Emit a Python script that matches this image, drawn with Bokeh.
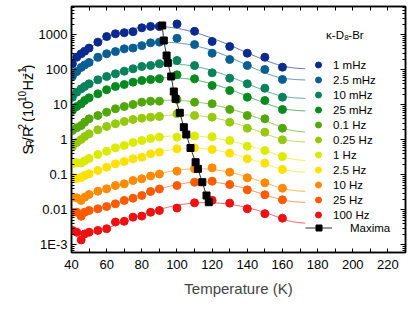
import numpy as np
from bokeh.plotting import figure
from bokeh.layouts import row
from bokeh.models import (Range1d, LinearAxis, LogAxis, FixedTicker, CustomJSTickFormatter,
                          Legend, LegendItem, Label)
from bokeh.core.properties import value
from bokeh.embed import file_html
from bokeh.resources import INLINE

# ---------------- data ----------------
T_pts = [40.5, 43, 45.5, 47.5, 50, 55, 60, 65, 70, 75, 80, 85, 90, 100, 110, 120, 130, 140, 150, 160]

freq_labels = ["1 mHz", "2.5 mHz", "10 mHz", "25 mHz", "0.1 Hz", "0.25 Hz",
               "1 Hz", "2.5 Hz", "10 Hz", "25 Hz", "100 Hz"]

s_1mHz = [148, 229, 288, 339, 417, 617, 891, 1072, 1148, 1230, 1585, 1738, 1738, 2042, 1259, 645, 463, 298, 229, 119]
s_2p5mHz = [65, 89, 117, 138, 162, 229, 288, 331, 398, 417, 490, 589, 617, 794, 525, 298, 197, 133, 102, 53]
s_10mHz = [16.5, 22.9, 28.6, 33.3, 39.8, 51.8, 64.4, 76.9, 91.2, 107, 124, 133, 148, 185, 132, 82, 57.5, 39.8, 29.8, 16.5]
s_25mHz = [6.87, 8.93, 10.7, 13.3, 15.8, 20.6, 26.9, 33.3, 38.0, 44.3, 49.4, 52.8, 55.3, 71.9, 55.3, 35.6, 25.6, 16.5, 13.3, 7.35]
s_0p1Hz = [1.85, 2.2, 2.56, 3.18, 3.98, 4.94, 6.15, 7.69, 8.93, 10.2, 11.9, 12.7, 12.7, 14.2, 11.9, 10.7, 7.35, 4.94, 3.98, 2.14]
s_0p25Hz = [0.644, 0.838, 1.02, 1.24, 1.48, 1.93, 2.4, 2.86, 3.33, 3.8, 4.14, 4.43, 4.63, 5.53, 4.94, 4.43, 3.18, 2.14, 1.65, 1.0]
s_1Hz = [0.206, 0.22, 0.217, 0.251, 0.292, 0.38, 0.472, 0.59, 0.687, 0.838, 0.955, 1.09, 1.2, 1.19, 1.29, 1.23, 0.955, 0.656, 0.494, 0.333]
s_2p5Hz = [0.0853, 0.0783, 0.0838, 0.0955, 0.107, 0.133, 0.165, 0.206, 0.24, 0.286, 0.318, 0.398, 0.443, 0.553, 0.59, 0.528, 0.414, 0.286, 0.214, 0.142]
s_10Hz = [0.0229, 0.022, 0.0185, 0.0229, 0.0274, 0.034, 0.0398, 0.0494, 0.0553, 0.0687, 0.0769, 0.0925, 0.105, 0.127, 0.148, 0.158, 0.119, 0.082, 0.059, 0.0414]
s_25Hz = [0.00853, 0.00853, 0.00656, 0.00853, 0.00955, 0.0107, 0.0124, 0.0148, 0.0185, 0.0214, 0.0256, 0.0333, 0.0393, 0.0494, 0.0615, 0.0656, 0.0528, 0.0372, 0.0269, 0.0193]
s_100Hz = [0.00257, 0.00229, 0.00138, 0.00204, 0.00229, 0.00257, 0.00288, 0.00447, 0.00468, 0.00617, 0.00661, 0.00851, 0.00955, 0.0112, 0.0158, 0.0186, 0.0155, 0.0107, 0.00776, 0.00575]

max_T = [91.6, 92.5, 94.1, 94.8, 96.7, 98.2, 99.2, 101.6, 103.9, 105.3, 107.7, 110.6, 111.9, 114.4, 116.8, 118.1]
max_S = [1845, 687, 256, 158, 64.4, 24.0, 14.8, 5.9, 2.29, 1.42, 0.583, 0.229, 0.148, 0.0615, 0.0256, 0.0165]

x_ticks = [40, 60, 80, 100, 120, 140, 160, 180, 200, 220]
y_ticks = [0.001, 0.01, 0.1, 1, 10, 100, 1000]
y_tick_labels = ["1E-3", "0.01", "0.1", "1", "10", "100", "1000"]

series = [s_1mHz, s_2p5mHz, s_10mHz, s_25mHz, s_0p1Hz, s_0p25Hz,
          s_1Hz, s_2p5Hz, s_10Hz, s_25Hz, s_100Hz]
colors = ["#0b2a8e", "#0a5f92", "#07825a", "#078a1e", "#52a80a", "#95c90a",
          "#dcea00", "#ffe100", "#ff8a00", "#ff5a00", "#ee1111"]

FONT = "Liberation Sans"
LW = 35  # width of the strip that holds the rotated y-axis title

# ---------------- main figure ----------------
p = figure(width=416 - LW, height=309, x_range=Range1d(40, 230),
           y_range=Range1d(10 ** -3.22, 10 ** 3.8086), y_axis_type="log",
           output_backend="svg", toolbar_location=None,
           min_border_left=71 - LW, min_border_right=11, min_border_top=6, min_border_bottom=57)
p.xgrid.visible = False
p.ygrid.visible = False
p.outline_line_color = "black"
p.outline_line_width = 1.5
p.background_fill_color = "white"

x_minor = [t + 10 for t in x_ticks]
y_minor = [m * 10.0 ** k for k in range(-4, 4) for m in range(2, 10)]

blank = CustomJSTickFormatter(code="return '';")


def style_axis(ax, labels=True, tin=5):
    ax.axis_line_color = "black"
    ax.axis_line_width = 1.5
    ax.major_tick_in = tin
    ax.major_tick_out = 0
    ax.minor_tick_in = 3
    ax.minor_tick_out = 0
    ax.major_tick_line_color = "black"
    ax.minor_tick_line_color = "black"
    ax.major_tick_line_width = 1
    ax.minor_tick_line_width = 1
    ax.major_label_text_font = FONT
    ax.major_label_text_font_size = "13px"
    ax.major_label_text_color = "black"
    if not labels:
        ax.formatter = blank
        ax.major_label_standoff = 0


bx = p.xaxis[0]
bx.ticker = FixedTicker(ticks=x_ticks, minor_ticks=x_minor)
style_axis(bx, tin=4)
bx.minor_tick_in = 4
bx.major_label_standoff = 7
bx.axis_label = "Temperature (K)"
bx.axis_label_text_font = FONT
bx.axis_label_text_font_style = "normal"
bx.axis_label_text_font_size = "15px"
bx.axis_label_standoff = 8

yfmt = CustomJSTickFormatter(args=dict(yt=y_ticks, yl=y_tick_labels), code="""
for (let i = 0; i < yt.length; i++) {
  if (Math.abs(Math.log10(yt[i]) - Math.log10(tick)) < 1e-6) return yl[i];
}
return '';
""")
ly = p.yaxis[0]
ly.ticker = FixedTicker(ticks=y_ticks, minor_ticks=y_minor)
ly.formatter = yfmt
style_axis(ly)
ly.major_label_standoff = 4

ry = LogAxis(ticker=FixedTicker(ticks=y_ticks, minor_ticks=y_minor))
style_axis(ry, labels=False)
p.add_layout(ry, "right")

tx = LinearAxis(ticker=FixedTicker(ticks=x_ticks, minor_ticks=x_minor))
style_axis(tx, labels=False, tin=4)
tx.minor_tick_in = 4
p.add_layout(tx, "above")

# ---------------- fits ----------------
T_arr = np.array(T_pts)
T_fit = np.linspace(40, 173, 220)
scatter_renderers = []
for s, c in zip(series, colors):
    ls = np.log10(np.array(s))
    poly = np.polynomial.Polynomial.fit(T_arr, ls, deg=5)
    dpoly = poly.deriv()
    y0, d0 = poly(160.0), dpoly(160.0)
    tau = 7.0
    yfit = np.where(T_fit <= 160, poly(T_fit),
                    y0 + d0 * tau * (1 - np.exp(-(T_fit - 160) / tau)))
    p.line(T_fit, 10 ** yfit, line_color=c, line_width=1, line_alpha=0.65)

for s, c in zip(series, colors):
    r = p.scatter(T_pts, s, marker="circle", size=8, fill_color=c, line_color=c)
    scatter_renderers.append(r)

mline = p.line(max_T, max_S, line_color="#333333", line_width=1)
msq = p.scatter(max_T, max_S, marker="square", size=7, fill_color="black", line_color="black")

# ---------------- legends ----------------
leg = Legend(items=[LegendItem(label=l, renderers=[r]) for l, r in zip(freq_labels, scatter_renderers)],
             location=(237, 30), padding=0, spacing=0, glyph_height=15, label_height=15,
             glyph_width=20, label_standoff=5, border_line_alpha=0, background_fill_alpha=0,
             label_text_font=FONT, label_text_font_size="11.5px", label_text_color="black")
p.add_layout(leg)

leg2 = Legend(items=[LegendItem(label="Maxima", renderers=[mline, msq])],
              location=(234, 17), padding=0, spacing=0, glyph_height=15, label_height=15,
              glyph_width=27, label_standoff=18, border_line_alpha=0, background_fill_alpha=0,
              label_text_font=FONT, label_text_font_size="11.5px", label_text_color="black")
p.add_layout(leg2)

# legend title: kappa-D8-Br
tA = dict(x=195.0, y=894, text_font=FONT, text_baseline="alphabetic", text_color="black", y_offset=2)
p.add_layout(Label(text="\u03ba-D", text_align="right", text_font_size="11.5px", **tA))
p.add_layout(Label(text="8", text_align="left", text_font_size="8px", x_offset=0.3,
                   **{**tA, "y_offset": -1}))
p.add_layout(Label(text="-Br", text_align="left", text_font_size="11.5px", x_offset=4.4, **tA))

# ---------------- strip with rotated y-axis title: S_R/R^2 (10^-10 Hz^-1) ----------------
q = figure(width=LW, height=309, x_range=Range1d(0, LW), y_range=Range1d(309, 0),
           output_backend="svg", toolbar_location=None, x_axis_location=None,
           y_axis_location=None, min_border=0)
q.xgrid.visible = False
q.ygrid.visible = False
q.outline_line_color = None

big, small = "14.5px", "10px"
pieces = [  # text, size, cross offset (px, + = down the rotated text), advance (px)
    ("S", big, 0, 9.67), ("R", small, 3, 7.22), ("/R", big, 0, 14.5), ("2", small, -6, 9.59),
    ("(10", big, 0, 20.95), ("-10", small, -6, 18.48), ("Hz", big, 0, 17.72), ("-1", small, -6, 8.89),
    (")", big, 0, 4.83)]
base_x, start_y = 27.0, 186.0
cum = 0.0
for txt, fs, cross, adv in pieces:
    q.text(x=[base_x + cross], y=[start_y - cum], text=[txt], angle=np.pi / 2,
           text_align="left", text_baseline="alphabetic", text_font=value(FONT),
           text_font_size=value(fs), text_color="black")
    cum += adv

layout = row(q, p, spacing=0)
open("out.html", "w").write(file_html(layout, INLINE))
